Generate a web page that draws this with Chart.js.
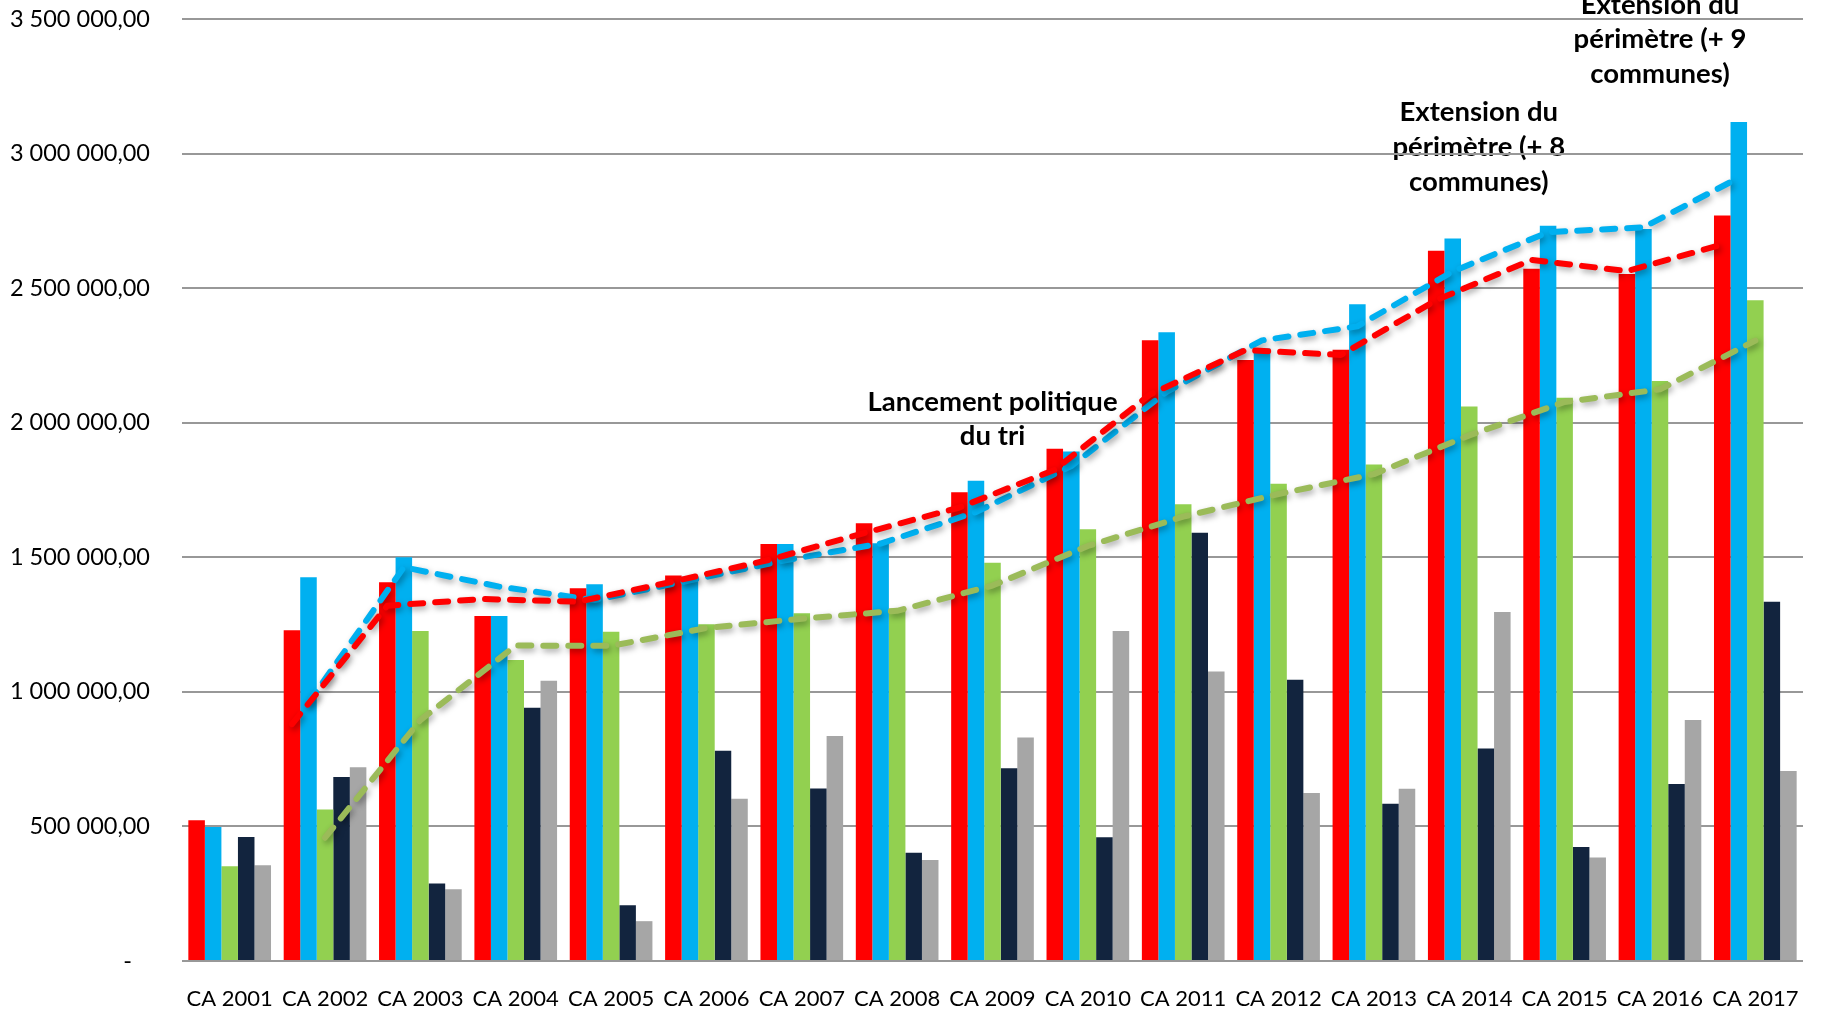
<!DOCTYPE html>
<html lang="fr">
<head>
<meta charset="utf-8">
<title>CA 2001 - 2017</title>
<script src="https://cdn.jsdelivr.net/npm/chart.js@4.4.1/dist/chart.umd.min.js"></script>
<style>
  html, body { margin: 0; padding: 0; background: #fff; }
  #wrap { width: 1822px; height: 1009px; }
</style>
</head>
<body>
<div id="wrap"><canvas id="caChart" width="1822" height="1009"></canvas></div>
<script>
// ----- données ----- //
const categories = ['CA 2001', 'CA 2002', 'CA 2003', 'CA 2004', 'CA 2005', 'CA 2006', 'CA 2007', 'CA 2008', 'CA 2009',
  'CA 2010', 'CA 2011', 'CA 2012', 'CA 2013', 'CA 2014', 'CA 2015', 'CA 2016', 'CA 2017'];

const serieRouge  = [523000, 1229000, 1407000, 1282000, 1385000, 1432000, 1549000, 1626000, 1742000, 1903000, 2306000, 2233000, 2271000, 2639000, 2572000, 2553000, 2770000];
const serieBleue  = [498000, 1426000, 1500000, 1282000, 1400000, 1428000, 1549000, 1552000, 1784000, 1893000, 2336000, 2276000, 2440000, 2684000, 2732000, 2720000, 3117000];
const serieVerte  = [352000, 563000, 1226000, 1118000, 1223000, 1251000, 1292000, 1310000, 1480000, 1604000, 1697000, 1773000, 1845000, 2060000, 2093000, 2155000, 2455000];
const serieMarine = [461000, 684000, 288000, 941000, 207000, 781000, 641000, 402000, 716000, 460000, 1591000, 1045000, 584000, 790000, 424000, 658000, 1335000];
const serieGrise  = [356000, 720000, 267000, 1041000, 148000, 603000, 836000, 375000, 830000, 1226000, 1076000, 624000, 640000, 1297000, 385000, 895000, 706000];

// courbes de tendance (pointillés)
const tendanceRouge = [null, 880000, 1320000, 1345000, 1335000, 1410000, 1490000, 1590000, 1685000, 1825000, 2105000, 2270000, 2252000, 2455000, 2605000, 2563000, 2662000];
const tendanceBleue = [null, 960000, 1463000, 1391000, 1341000, 1414000, 1489000, 1551000, 1668000, 1839000, 2115000, 2306000, 2358000, 2562000, 2708000, 2726000, 2910000];
const tendanceVerte = [null, 458000, 895000, 1172000, 1171000, 1237000, 1272000, 1301000, 1395000, 1542000, 1651000, 1735000, 1809000, 1953000, 2077000, 2124000, 2305000];

const yTickLabels = ['-   ', '500 000,00', '1 000 000,00', '1 500 000,00', '2 000 000,00', '2 500 000,00', '3 000 000,00', '3 500 000,00'];

// annotations (texte en gras)
const annotations = [
  { lines: ['Lancement politique', 'du tri'], at: 8, y: 2078000 },
  { lines: ['Extension du', 'périmètre (+ 8', 'communes)'], at: 13.1, y: 3153000 },
  { lines: ['Extension du', 'périmètre (+ 9', 'communes)'], at: 15, y: 3553000 }
];

const FONT = 'Lato, "Open Sans", sans-serif';

// fond blanc + textes des annotations (sous le quadrillage, comme l'original)
const backgroundAndNotes = {
  id: 'backgroundAndNotes',
  beforeDraw(chart) {
    const ctx = chart.ctx;
    ctx.save();
    ctx.fillStyle = '#ffffff';
    ctx.fillRect(0, 0, chart.width, chart.height);
    ctx.fillStyle = '#000000';
    ctx.font = 'bold 27.5px ' + FONT;
    ctx.textAlign = 'center';
    ctx.textBaseline = 'middle';
    const xs = chart.scales.x, ys = chart.scales.y;
    annotations.forEach(function(a) {
      const x = xs.getPixelForValue(a.at);
      const y0 = ys.getPixelForValue(a.y);
      a.lines.forEach(function(t, i) { ctx.fillText(t, x, y0 + i * 34.8); });
    });
    ctx.restore();
  }
};

// les tendances Excel suivent la position de leur barre dans le groupe
const alignTrends = {
  id: 'alignTrends',
  afterDatasetsUpdate(chart) {
    chart.data.datasets.forEach(function(ds, i) {
      if (ds.barRef === undefined) return;
      const barMeta = chart.getDatasetMeta(ds.barRef);
      const lineMeta = chart.getDatasetMeta(i);
      lineMeta.data.forEach(function(pt, j) {
        if (barMeta.data[j]) pt.x = barMeta.data[j].x;
      });
    });
  },
  beforeDatasetDraw(chart, args) {
    const ds = chart.data.datasets[args.index];
    if (ds.type !== 'line') return;
    const ctx = chart.ctx;
    ctx.save();
    ctx.shadowColor = 'rgba(0,0,0,0.35)';
    ctx.shadowBlur = 6;
    ctx.shadowOffsetX = 2;
    ctx.shadowOffsetY = 3;
  },
  afterDatasetDraw(chart, args) {
    const ds = chart.data.datasets[args.index];
    if (ds.type !== 'line') return;
    chart.ctx.restore();
  }
};

function trend(label, data, color, barRef) {
  return {
    type: 'line', label: label, data: data, barRef: barRef,
    borderColor: color, borderWidth: 6,
    borderDash: [13, 12], borderCapStyle: 'round', borderJoinStyle: 'round',
    pointRadius: 0, fill: false, tension: 0, order: 0
  };
}

function bars(label, data, color) {
  return { type: 'bar', label: label, data: data, backgroundColor: color, borderWidth: 0, order: 1 };
}

var ctx = document.getElementById('caChart').getContext('2d');
var caChart = new Chart(ctx, {
  data: {
    labels: categories,
    datasets: [
      bars('Rouge', serieRouge, '#ff0000'),
      bars('Bleu', serieBleue, '#00b0f0'),
      bars('Vert', serieVerte, '#92d050'),
      bars('Marine', serieMarine, '#12243e'),
      bars('Gris', serieGrise, '#a6a6a6'),
      trend('Tendance rouge', tendanceRouge, '#ff0000', 0),
      trend('Tendance bleue', tendanceBleue, '#00b0f0', 1),
      trend('Tendance verte', tendanceVerte, '#9bbb59', 2)
    ]
  },
  options: {
    responsive: false,
    animation: false,
    devicePixelRatio: 1,
    layout: { padding: { top: 19, right: 19, left: 0, bottom: 0 } },
    datasets: {
      bar: { categoryPercentage: 0.867, barPercentage: 1.0 }
    },
    scales: {
      x: {
        grid: { display: false },
        border: { display: false },
        ticks: { color: '#000', font: { family: FONT, size: 22 }, padding: 17, maxRotation: 0, autoSkip: false },
        afterFit: function(scale) {
          scale.height = 48;
          scale.paddingLeft = 0;
          scale.paddingRight = 0;
        }
      },
      y: {
        min: 0,
        max: 3500000,
        grid: { color: '#989898', lineWidth: 2, drawTicks: false },
        border: { display: false },
        ticks: {
          stepSize: 500000,
          padding: 32,
          color: '#000',
          font: { family: FONT, size: 23.5 },
          callback: function(value, index) { return yTickLabels[index]; }
        },
        afterFit: function(scale) {
          scale.width = 182;
          scale.paddingTop = 0;
          scale.paddingBottom = 0;
        }
      }
    },
    plugins: {
      legend: { display: false },
      tooltip: { enabled: false },
      title: { display: false }
    }
  },
  plugins: [backgroundAndNotes, alignTrends]
});
</script>
</body>
</html>
